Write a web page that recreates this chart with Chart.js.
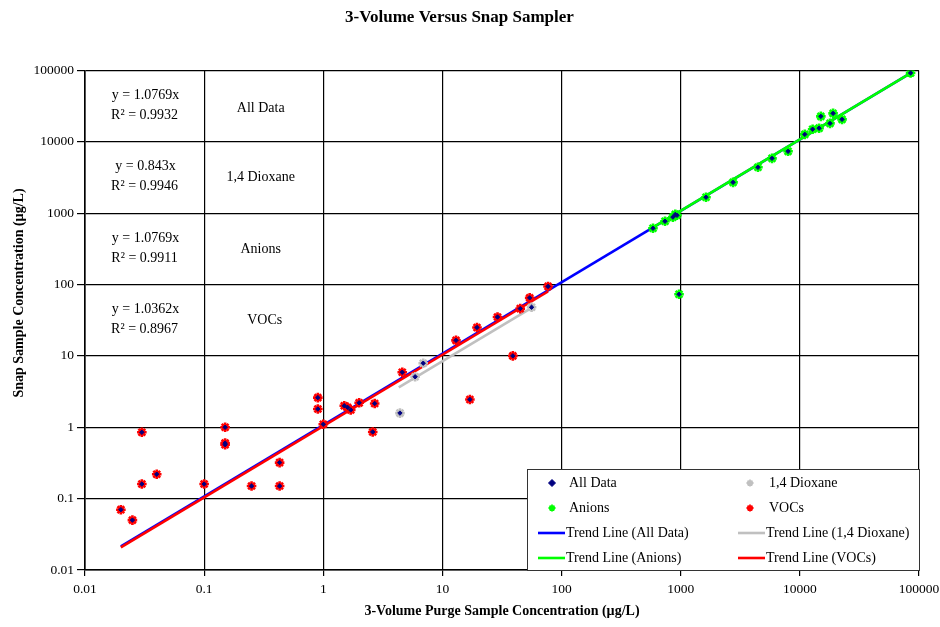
<!DOCTYPE html>
<html>
<head>
<meta charset="utf-8">
<script src="https://cdn.jsdelivr.net/npm/chart.js@4/dist/chart.umd.min.js"></script>
<style>
html,body{margin:0;padding:0;background:#fff;}
canvas{display:block;}
</style>
</head>
<body>
<canvas id="c" width="940" height="627"></canvas>
<script>
// ---- data ----
const decadeTicks = [0.01, 0.1, 1, 10, 100, 1000, 10000, 100000];

const vocX = [0.02, 0.025, 0.03, 0.03, 0.04, 0.1, 0.15, 0.15, 0.15, 0.25, 0.43, 0.43, 0.9, 0.9, 1.0, 1.5, 1.6, 1.7, 2.0, 2.7, 2.6, 4.6, 13, 17, 19.5, 29, 39, 45, 54, 77];
const vocY = [0.07, 0.05, 0.16, 0.85, 0.22, 0.16, 1.0, 0.6, 0.57, 0.15, 0.32, 0.15, 2.6, 1.8, 1.1, 2.0, 1.9, 1.75, 2.2, 2.15, 0.86, 5.9, 16.5, 2.45, 25, 35, 10, 46, 65, 94];

const dioxX = [4.4, 5.9, 6.9, 56];
const dioxY = [1.58, 5.1, 7.9, 48];

const anionX = [585, 738, 860, 900, 931, 968, 1630, 2750, 4450, 5840, 7960, 11000, 12800, 14500, 15000, 17900, 19000, 22600, 85000];
const anionY = [614, 770, 880, 960, 933, 73, 1670, 2700, 4390, 5860, 7350, 12700, 15000, 15500, 22700, 18100, 25000, 20600, 92000];

// trend line end points (y = slope * x)
const trendAllX = [0.02, 85000];
const trendAllY = [0.0215, 91537];
const trendDioxX = [4.3, 56];
const trendDioxY = [3.62, 47.2];
const trendAnionX = [585, 85000];
const trendAnionY = [630, 91537];
const trendVocX = [0.02, 77];
const trendVocY = [0.0207, 79.8];

const eqLabels = ['y = 1.0769x', 'y = 0.843x', 'y = 1.0769x', 'y = 1.0362x'];
const r2Labels = ['R\u00B2 = 0.9932', 'R\u00B2 = 0.9946', 'R\u00B2 = 0.9911', 'R\u00B2 = 0.8967'];
const groupNames = ['All Data', '1,4 Dioxane', 'Anions', 'VOCs'];

const legendNames = ['All Data', '1,4 Dioxane', 'Anions', 'VOCs',
  'Trend Line (All Data)', 'Trend Line (1,4 Dioxane)', 'Trend Line (Anions)', 'Trend Line (VOCs)'];

const yAxisTitle = 'Snap Sample Concentration (\u00B5g/L)';

// ---- colours ----
const NAVY = '#000080', GREY = '#c0c0c0', GREEN = '#00ff00', RED = '#ff0000', BLUE = '#0000ff';
const FONT = "'Liberation Serif', 'Times New Roman', serif";

const pts = (xs, ys) => xs.map((x, i) => ({ x: x, y: ys[i] }));
const allData = pts(vocX, vocY).concat(pts(dioxX, dioxY), pts(anionX, anionY));

const markerBase = { showLine: false, pointStyle: 'star', pointRadius: 4.8, pointBorderWidth: 2.6, order: 1 };
const lineBase = { showLine: true, pointRadius: 0, borderWidth: 2.6, fill: false };

const overlay = {
  id: 'overlay',
  afterDraw(chart) {
    const ctx = chart.ctx;
    const xs = chart.scales.x, ys = chart.scales.y;
    const ca = chart.chartArea;
    ctx.save();
    ctx.fillStyle = '#000';
    ctx.textAlign = 'center';
    ctx.textBaseline = 'middle';
    // y axis title (centred as in the reference)
    ctx.save();
    ctx.translate(19, 293);
    ctx.rotate(-Math.PI / 2);
    ctx.font = 'bold 14px ' + FONT;
    ctx.fillText(yAxisTitle, 0, 0);
    ctx.restore();
    // equation table in the upper-left grid cells
    const rowEdges = [100000, 10000, 1000, 100, 10];
    const cEq = xs.getPixelForValue(Math.sqrt(0.01 * 0.1));
    const cName = xs.getPixelForValue(Math.sqrt(0.1 * 1));
    for (let i = 0; i < 4; i++) {
      const yc = ys.getPixelForValue(Math.sqrt(rowEdges[i] * rowEdges[i + 1]));
      ctx.font = '14px ' + FONT;
      ctx.fillText(eqLabels[i], cEq + 1, yc - 11);
      ctx.fillText(r2Labels[i], cEq, yc + 9);
      ctx.fillText(groupNames[i], cName - 3 + (i === 3 ? 4 : 0), yc + (i === 0 ? 2 : 0));
    }
    // legend box
    const w = 393, h = 102;
    const L = ca.right + 1 - w, T = ca.bottom + 1 - h;
    ctx.fillStyle = '#fff';
    ctx.fillRect(L, T, w, h);
    ctx.strokeStyle = '#333';
    ctx.lineWidth = 1;
    ctx.strokeRect(L + 0.5, T + 0.5, w - 1, h - 1);
    const rowY = [T + 14, T + 39, T + 64, T + 89];
    const colX = [L, L + 200];
    const markerColors = [NAVY, GREY, GREEN, RED];
    const lineColors = [BLUE, GREY, GREEN, RED];
    ctx.textAlign = 'left';
    ctx.font = '14px ' + FONT;
    for (let i = 0; i < 8; i++) {
      const col = i % 2, row = Math.floor(i / 2);
      const cx = colX[col], cy = rowY[row];
      if (i < 4) {
        const style = i === 0 ? 'rectRot' : 'star';
        ctx.fillStyle = markerColors[i];
        ctx.strokeStyle = markerColors[i];
        ctx.lineWidth = i === 0 ? 1 : 1.8;
        Chart.helpers.drawPoint(ctx, {
          pointStyle: style, radius: 3.5, borderWidth: i === 0 ? 1 : 1.8, rotation: 0
        }, cx + 25 - (col ? 2 : 0), cy);
        ctx.fillStyle = '#000';
        ctx.fillText(legendNames[i], cx + 42, cy);
      } else {
        ctx.strokeStyle = lineColors[i - 4];
        ctx.lineWidth = 2.6;
        ctx.beginPath();
        ctx.moveTo(cx + 11, cy);
        ctx.lineTo(cx + 38, cy);
        ctx.stroke();
        ctx.fillStyle = '#000';
        ctx.fillText(legendNames[i], cx + 39, cy);
      }
    }
    ctx.restore();
  }
};

new Chart(document.getElementById('c'), {
  type: 'scatter',
  data: {
    datasets: [
      Object.assign({}, markerBase, { label: 'All Data', data: allData, pointStyle: 'rectRot', pointRadius: 2.2, pointBorderWidth: 1, backgroundColor: NAVY, borderColor: NAVY, order: 0 }),
      Object.assign({}, markerBase, { label: '1,4 Dioxane', data: pts(dioxX, dioxY), backgroundColor: GREY, borderColor: GREY }),
      Object.assign({}, markerBase, { label: 'Anions', data: pts(anionX, anionY), backgroundColor: GREEN, borderColor: GREEN }),
      Object.assign({}, markerBase, { label: 'VOCs', data: pts(vocX, vocY), backgroundColor: RED, borderColor: RED }),
      Object.assign({}, lineBase, { label: 'Trend Line (All Data)', data: pts(trendAllX, trendAllY), borderColor: BLUE, backgroundColor: BLUE, order: 5 }),
      Object.assign({}, lineBase, { label: 'Trend Line (1,4 Dioxane)', data: pts(trendDioxX, trendDioxY), borderColor: GREY, backgroundColor: GREY, order: 4 }),
      Object.assign({}, lineBase, { label: 'Trend Line (Anions)', data: pts(trendAnionX, trendAnionY), borderColor: GREEN, backgroundColor: GREEN, order: 3 }),
      Object.assign({}, lineBase, { label: 'Trend Line (VOCs)', data: pts(trendVocX, trendVocY), borderColor: RED, backgroundColor: RED, order: 2 })
    ]
  },
  options: {
    responsive: false,
    animation: false,
    layout: { padding: { left: 0, right: 21, top: 0, bottom: 7 } },
    plugins: {
      legend: { display: false },
      tooltip: { enabled: false },
      title: {
        display: true,
        text: '3-Volume Versus Snap Sampler',
        color: '#000',
        font: { family: FONT, size: 17, weight: 'bold' },
        padding: { top: 7, bottom: 43 }
      }
    },
    scales: {
      x: {
        type: 'logarithmic',
        position: 'bottom',
        min: 0.01, max: 100000,
        afterBuildTicks: s => { s.ticks = decadeTicks.map(v => ({ value: v })); },
        afterFit: s => { s.height = 50; s.paddingLeft = 0; s.paddingRight = 0; },
        grid: { color: '#000', lineWidth: 1.2, tickLength: 6, drawTicks: true },
        border: { color: '#000', width: 1.6 },
        ticks: {
          color: '#000', font: { family: FONT, size: 13.5 }, padding: 5, maxRotation: 0, autoSkip: false,
          callback: v => String(v)
        },
        title: {
          display: true, text: '3-Volume Purge Sample Concentration (\u00B5g/L)', color: '#000',
          font: { family: FONT, size: 14, weight: 'bold' }, padding: { top: 0, bottom: 0 }
        }
      },
      y: {
        type: 'logarithmic',
        min: 0.01, max: 100000,
        afterBuildTicks: s => { s.ticks = decadeTicks.map(v => ({ value: v })); },
        afterFit: s => { s.width = 85; },
        grid: { color: '#000', lineWidth: 1.2, tickLength: 8, drawTicks: true },
        border: { color: '#000', width: 1.6 },
        ticks: {
          color: '#000', font: { family: FONT, size: 13.5 }, padding: 3, autoSkip: false,
          callback: v => String(v)
        },
        title: { display: false }
      }
    }
  },
  plugins: [overlay]
});
</script>
</body>
</html>
